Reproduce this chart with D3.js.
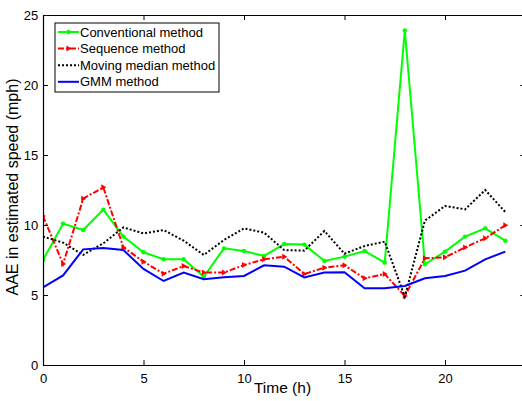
<!DOCTYPE html>
<html>
<head>
<meta charset="utf-8">
<script src="https://cdn.jsdelivr.net/npm/d3@7"></script>
<style>
  body { margin: 0; background: #fff; }
  svg text { font-family: "Liberation Sans", Arial, sans-serif; }
</style>
</head>
<body>
<script>
// hours of the day
var hours = d3.range(0, 24);

// AAE values
var conventional = [7.5, 10.1, 9.64, 11.1, 9.17, 8.05, 7.55, 7.55, 6.3, 8.33, 8.14, 7.79,
                    8.64, 8.6, 7.43, 7.74, 8.14, 7.31, 23.9, 7.19, 8.1, 9.17, 9.76, 8.88];
var sequence = [10.64, 7.21, 11.88, 12.69, 8.4, 7.38, 6.52, 7.07, 6.6, 6.6, 7.14, 7.55,
                7.74, 6.5, 6.95, 7.12, 6.19, 6.5, 4.93, 7.62, 7.69, 8.4, 9.05, 9.98];
var movingMedian = [9.17, 8.74, 7.86, 8.69, 9.83, 9.4, 9.64, 8.88, 7.86, 8.93, 9.76, 9.45,
                    8.21, 8.17, 9.57, 7.95, 8.5, 8.81, 4.88, 10.31, 11.36, 11.12, 12.5, 10.93];
var gmm = [5.55, 6.4, 8.26, 8.36, 8.21, 6.86, 6.0, 6.6, 6.12, 6.26, 6.36, 7.12,
           7.02, 6.26, 6.6, 6.62, 5.48, 5.48, 5.64, 6.19, 6.36, 6.74, 7.55, 8.1];

var xTicks = [0, 5, 10, 15, 20];
var yTicks = [0, 5, 10, 15, 20, 25];

var seriesNames = ["Conventional method", "Sequence method", "Moving median method", "GMM method"];
var seriesData = [conventional, sequence, movingMedian, gmm];

var styles = [
  {color: "#00ff00", dash: null, marker: "dot"},
  {color: "#ff0000", dash: "6,2,2,2", marker: "tri"},
  {color: "#000000", dash: "2,2", marker: null},
  {color: "#0000ff", dash: null, marker: null}
];

var width = 522, height = 401;
var margin = {top: 15, left: 43, bottom: 36};

var svg = d3.select("body").append("svg")
  .attr("width", width)
  .attr("height", height);

var x = d3.scaleLinear().domain([0, 24]).range([margin.left, margin.left + 24 * 20.1]);
var y = d3.scaleLinear().domain([0, 25]).range([height - margin.bottom, margin.top]);

var x0 = x.range()[0], x1 = x.range()[1], y0 = y.range()[0], y1 = y.range()[1];

// clip for lines
svg.append("clipPath").attr("id", "clip")
  .append("rect").attr("x", x0).attr("y", y1).attr("width", x1 - x0).attr("height", y0 - y1);

var line = d3.line()
  .x(function(d, i) { return x(hours[i]); })
  .y(function(d) { return y(d); });

var plot = svg.append("g").attr("clip-path", "url(#clip)");

seriesData.forEach(function(vals, k) {
  var s = styles[k];
  plot.append("path")
    .attr("fill", "none")
    .attr("stroke", s.color)
    .attr("stroke-width", 2)
    .attr("stroke-dasharray", s.dash)
    .attr("stroke-linejoin", "miter")
    .attr("d", line(vals));

  if (s.marker == "dot") {
    plot.selectAll(".m" + k).data(vals).enter().append("circle")
      .attr("cx", function(d, i) { return x(hours[i]); })
      .attr("cy", function(d) { return y(d); })
      .attr("r", 2.2)
      .attr("fill", s.color);
  } else if (s.marker == "tri") {
    plot.selectAll(".m" + k).data(vals).enter().append("path")
      .attr("d", function(d, i) {
        var cx = x(hours[i]), cy = y(d);
        return "M" + (cx + 3) + "," + cy + "L" + (cx - 2) + "," + (cy - 3) + "L" + (cx - 2) + "," + (cy + 3) + "Z";
      })
      .attr("fill", s.color);
  }
});

// axes (matlab style box with ticks inward)
var axBottom = svg.append("g")
  .attr("transform", "translate(0," + y0 + ")")
  .call(d3.axisBottom(x).tickValues(xTicks).tickSizeInner(-5).tickSizeOuter(0).tickPadding(6));
var axTop = svg.append("g")
  .attr("transform", "translate(0," + y1 + ")")
  .call(d3.axisTop(x).tickValues(xTicks).tickSizeInner(-5).tickSizeOuter(0).tickFormat(""));
var axLeft = svg.append("g")
  .attr("transform", "translate(" + x0 + ",0)")
  .call(d3.axisLeft(y).tickValues(yTicks).tickSizeInner(-5).tickSizeOuter(0).tickPadding(6));
var axRight = svg.append("g")
  .attr("transform", "translate(" + x1 + ",0)")
  .call(d3.axisRight(y).tickValues(yTicks).tickSizeInner(-5).tickSizeOuter(0).tickFormat(""));

[axBottom, axTop, axLeft, axRight].forEach(function(g) {
  g.selectAll("path").attr("stroke", "#000").attr("stroke-width", 1.2);
  g.selectAll("line").attr("stroke", "#000");
  g.selectAll("text").attr("fill", "#000").style("font-size", "13px");
});
axBottom.selectAll("text").attr("dy", "0.9em");
axLeft.selectAll("text").attr("dx", "0.1em");

// axis labels
svg.append("text")
  .attr("x", (x0 + 522) / 2)
  .attr("y", 393)
  .attr("text-anchor", "middle")
  .style("font-size", "15.5px")
  .text("Time (h)");

svg.append("text")
  .attr("transform", "translate(18," + ((y0 + y1) / 2 - 3) + ")rotate(-90)")
  .attr("text-anchor", "middle")
  .style("font-size", "16px")
  .text("AAE in estimated speed (mph)");

// legend
var legend = svg.append("g").attr("transform", "translate(55,23)");
legend.append("rect")
  .attr("width", 164).attr("height", 69)
  .attr("fill", "#fff").attr("stroke", "#000").attr("stroke-width", 1);

seriesNames.forEach(function(name, k) {
  var s = styles[k];
  var ly = 9 + k * 16.6;
  legend.append("line")
    .attr("x1", 3).attr("x2", 24).attr("y1", ly).attr("y2", ly)
    .attr("stroke", s.color).attr("stroke-width", 2)
    .attr("stroke-dasharray", s.dash);
  if (s.marker == "dot") {
    legend.append("circle").attr("cx", 13.5).attr("cy", ly).attr("r", 2.2).attr("fill", s.color);
  } else if (s.marker == "tri") {
    legend.append("path")
      .attr("d", "M" + 16.5 + "," + ly + "L" + 11.5 + "," + (ly - 3) + "L" + 11.5 + "," + (ly + 3) + "Z")
      .attr("fill", s.color);
  }
  legend.append("text")
    .attr("x", 25).attr("y", ly + 4.5)
    .style("font-size", "13px")
    .text(name);
});
</script>
</body>
</html>
